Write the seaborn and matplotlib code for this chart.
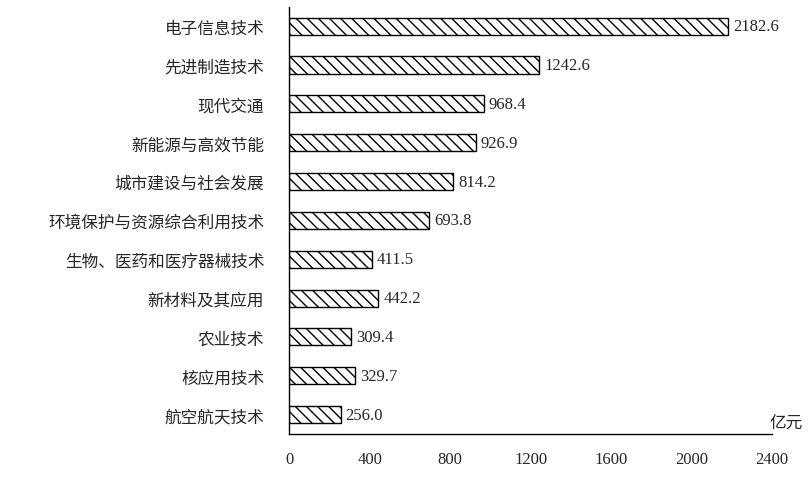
import matplotlib
matplotlib.use('Agg')
import matplotlib.pyplot as plt
import seaborn as sns
import pandas as pd

categories = ['电子信息技术', '先进制造技术', '现代交通', '新能源与高效节能', '城市建设与社会发展',
              '环境保护与资源综合利用技术', '生物、医药和医疗器械技术', '新材料及其应用',
              '农业技术', '核应用技术', '航空航天技术']
values = [2182.6, 1242.6, 968.4, 926.9, 814.2, 693.8, 411.5, 442.2, 309.4, 329.7, 256.0]
xticks = [0, 400, 800, 1200, 1600, 2000, 2400]

df = pd.DataFrame({'cat': categories, 'val': values})

sns.set_style('white')
plt.rcParams['font.family'] = ['Liberation Serif', 'Noto Sans CJK SC']
plt.rcParams['hatch.linewidth'] = 1.0

fig = plt.figure(figsize=(8.1, 4.85), dpi=100)
ax = fig.add_axes([0.357, 0.103, 0.596, 0.881])
sns.barplot(data=df, x='val', y='cat', color='white', edgecolor='black',
            linewidth=1.0, width=0.44, ax=ax, hatch='\\\\\\')

for i, v in enumerate(values):
    ax.text(v + 25, i, f'{v:.1f}', va='center', ha='left', fontsize=12,
            family='Liberation Serif')

ax.set_xlim(0, 2400)
ax.set_xticks(xticks)
ax.set_xticklabels([str(t) for t in xticks], fontsize=12, family='Liberation Serif')
ax.set_yticks(range(len(categories)))
ax.set_yticklabels(categories, fontsize=12, family='Noto Sans CJK SC')
ax.set_xlabel('')
ax.set_ylabel('')
for s in ['top', 'right']:
    ax.spines[s].set_visible(False)
for s in ['left', 'bottom']:
    ax.spines[s].set_color('black')
    ax.spines[s].set_linewidth(1.0)
ax.tick_params(axis='x', direction='out', length=4, color='black', pad=8)
ax.tick_params(axis='y', length=0, pad=18)
ax.text(1.03, 0.005, '亿元', transform=ax.transAxes, fontsize=12,
        family='Noto Sans CJK SC', ha='center', va='bottom')

fig.savefig('out.png', dpi=100)
